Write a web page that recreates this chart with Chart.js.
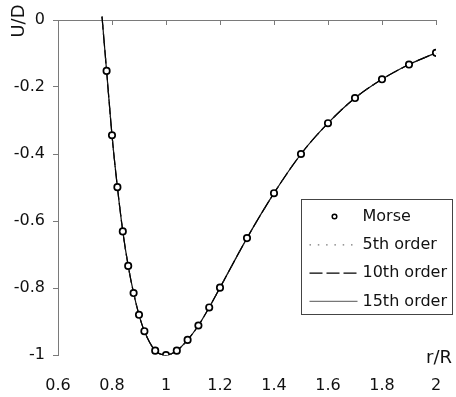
<!DOCTYPE html>
<html>
<head>
<meta charset="utf-8">
<script src="https://cdn.jsdelivr.net/npm/chart.js@4"></script>
<style>
html,body{margin:0;padding:0;background:#fff;}
#wrap{width:456px;height:397px;}
</style>
</head>
<body>
<div id="wrap"><canvas id="chart" width="456" height="397"></canvas></div>
<script>
/* ================================
   DATA
================================ */

// Morse potential, sample points
const morseR = [0.78,0.80,0.82,0.84,0.86,0.88,0.90,0.92,0.96,1.00,1.04,1.08,1.12,1.16,1.20,1.30,1.40,1.50,1.60,1.70,1.80,1.90,2.00]
const morseU = [-0.152,-0.344,-0.499,-0.631,-0.734,-0.815,-0.880,-0.929,-0.987,-1.000,-0.987,-0.955,-0.912,-0.858,-0.799,-0.651,-0.517,-0.400,-0.308,-0.233,-0.177,-0.133,-0.098]

// fitted curves (5th, 10th, 15th order) - they sit on top of each other
const fitR = [0.763,0.78,0.80,0.82,0.84,0.86,0.88,0.90,0.92,0.96,1.00,1.04,1.08,1.12,1.16,1.20,1.30,1.40,1.50,1.60,1.70,1.80,1.90,2.00]
const fit5 = [0.010,-0.152,-0.344,-0.499,-0.631,-0.734,-0.815,-0.880,-0.929,-0.987,-1.000,-0.987,-0.955,-0.912,-0.858,-0.799,-0.651,-0.517,-0.400,-0.308,-0.233,-0.177,-0.133,-0.098]
const fit10 = [0.010,-0.152,-0.344,-0.499,-0.631,-0.734,-0.815,-0.880,-0.929,-0.987,-1.000,-0.987,-0.955,-0.912,-0.858,-0.799,-0.651,-0.517,-0.400,-0.308,-0.233,-0.177,-0.133,-0.098]
const fit15 = [0.010,-0.152,-0.344,-0.499,-0.631,-0.734,-0.815,-0.880,-0.929,-0.987,-1.000,-0.987,-0.955,-0.912,-0.858,-0.799,-0.651,-0.517,-0.400,-0.308,-0.233,-0.177,-0.133,-0.098]

const xTicks = [0.6,0.8,1,1.2,1.4,1.6,1.8,2]
const yTicks = [-1,-0.8,-0.6,-0.4,-0.2,0]
const xTitle = "r/R"
const yTitle = "U/D"

const pts = (xs,ys)=>xs.map((x,i)=>({x:x,y:ys[i]}))
const fmt = v=>String(Math.round(v*10)/10)

Chart.defaults.font.family = "'DejaVu Sans', sans-serif"
Chart.defaults.font.size = 16
Chart.defaults.color = "#111"

const AXIS = "#7a7a7a"

/* ================================
   TITLES + LEGEND (drawn on canvas)
================================ */

const extras = {
id:"extras",
afterDraw(chart){
const ctx = chart.ctx
const ca = chart.chartArea
ctx.save()
ctx.fillStyle = "#111"
ctx.font = "18px 'DejaVu Sans', sans-serif"

// x title, just above the tick labels at the right
ctx.textAlign = "right"
ctx.textBaseline = "middle"
ctx.fillText(xTitle, ca.right + 16, ca.bottom + 3.5)

// y title, rotated at the top left
ctx.save()
ctx.translate(19.5, ca.top + 1)
ctx.rotate(-Math.PI/2)
ctx.textAlign = "center"
ctx.fillText(yTitle, 0, 0)
ctx.restore()

// legend box
const lx = ca.right - 134.5
const ly = ca.top + 179.5
ctx.strokeStyle = "#444"
ctx.lineWidth = 1
ctx.strokeRect(lx, ly, 151, 115)

ctx.font = "16px 'DejaVu Sans', sans-serif"
ctx.textAlign = "left"
chart.data.datasets.forEach((ds,i)=>{
const y = ly + 17 + i*28.3
if(ds.showLine){
ctx.save()
ctx.strokeStyle = ds.legendColor || ds.borderColor
ctx.lineWidth = ds.legendWidth || ds.borderWidth
ctx.setLineDash(ds.legendDash || [])
ctx.beginPath()
ctx.moveTo(lx + 8, y)
ctx.lineTo(lx + 56, y)
ctx.stroke()
ctx.restore()
}else{
ctx.save()
ctx.strokeStyle = ds.pointBorderColor
ctx.fillStyle = ds.pointBackgroundColor
ctx.lineWidth = 1.5
ctx.beginPath()
ctx.arc(lx + 33, y, 2.3, 0, Math.PI*2)
ctx.fill()
ctx.stroke()
ctx.restore()
}
ctx.fillStyle = "#111"
ctx.fillText(ds.label, lx + 61, y)
})
ctx.restore()
}
}

/* ================================
   CHART
================================ */

const lineStyle = {
showLine:true,
pointRadius:0,
borderWidth:1.2,
cubicInterpolationMode:"monotone",
clip:false
}

new Chart(document.getElementById("chart"),{
type:"scatter",
data:{
datasets:[
{
label:"Morse",
data:pts(morseR,morseU),
showLine:false,
pointRadius:3.2,
pointBorderWidth:1.7,
pointBorderColor:"#000",
pointBackgroundColor:"#fff"
},
Object.assign({
label:"5th order",
data:pts(fitR,fit5),
borderColor:"#222",
borderDash:[1.5,6.8],
legendDash:[1.5,6.8],
legendColor:"#777"
},lineStyle),
Object.assign({
label:"10th order",
data:pts(fitR,fit10),
borderColor:"#000",
borderDash:[13,4],
legendDash:[13,4]
},lineStyle),
Object.assign({
label:"15th order",
data:pts(fitR,fit15),
borderColor:"#111",
legendColor:"#777"
},lineStyle)
]
},
options:{
responsive:false,
animation:false,
layout:{padding:{top:20,right:20,left:0,bottom:0}},
plugins:{
legend:{display:false},
tooltip:{enabled:false}
},
scales:{
x:{
type:"linear",
position:"bottom",
min:xTicks[0],
max:xTicks[xTicks.length-1],
afterBuildTicks:s=>{s.ticks = xTicks.map(v=>({value:v}))},
ticks:{callback:fmt,padding:21,maxRotation:0,autoSkip:false,color:"#111"},
grid:{display:false,drawTicks:false},
border:{display:false},
afterFit:s=>{s.height = 42; s.paddingLeft = 0; s.paddingRight = 0}
},
xTop:{
type:"linear",
position:"top",
min:xTicks[0],
max:xTicks[xTicks.length-1],
afterBuildTicks:s=>{s.ticks = xTicks.map(v=>({value:v}))},
ticks:{display:false},
grid:{drawOnChartArea:false,drawTicks:true,tickLength:-5,color:AXIS,lineWidth:1},
border:{display:true,color:AXIS,width:1},
afterFit:s=>{s.height = 0; s.paddingLeft = 0; s.paddingRight = 0}
},
y:{
type:"linear",
position:"left",
min:yTicks[0],
max:yTicks[yTicks.length-1],
afterBuildTicks:s=>{s.ticks = yTicks.map(v=>({value:v}))},
ticks:{callback:fmt,padding:8,color:"#111"},
grid:{drawOnChartArea:false,drawTicks:true,tickLength:5,color:AXIS,lineWidth:1},
border:{display:true,color:AXIS,width:1},
afterFit:s=>{s.width = 58; s.paddingTop = 0; s.paddingBottom = 0}
}
}
},
plugins:[extras]
})
</script>
</body>
</html>
